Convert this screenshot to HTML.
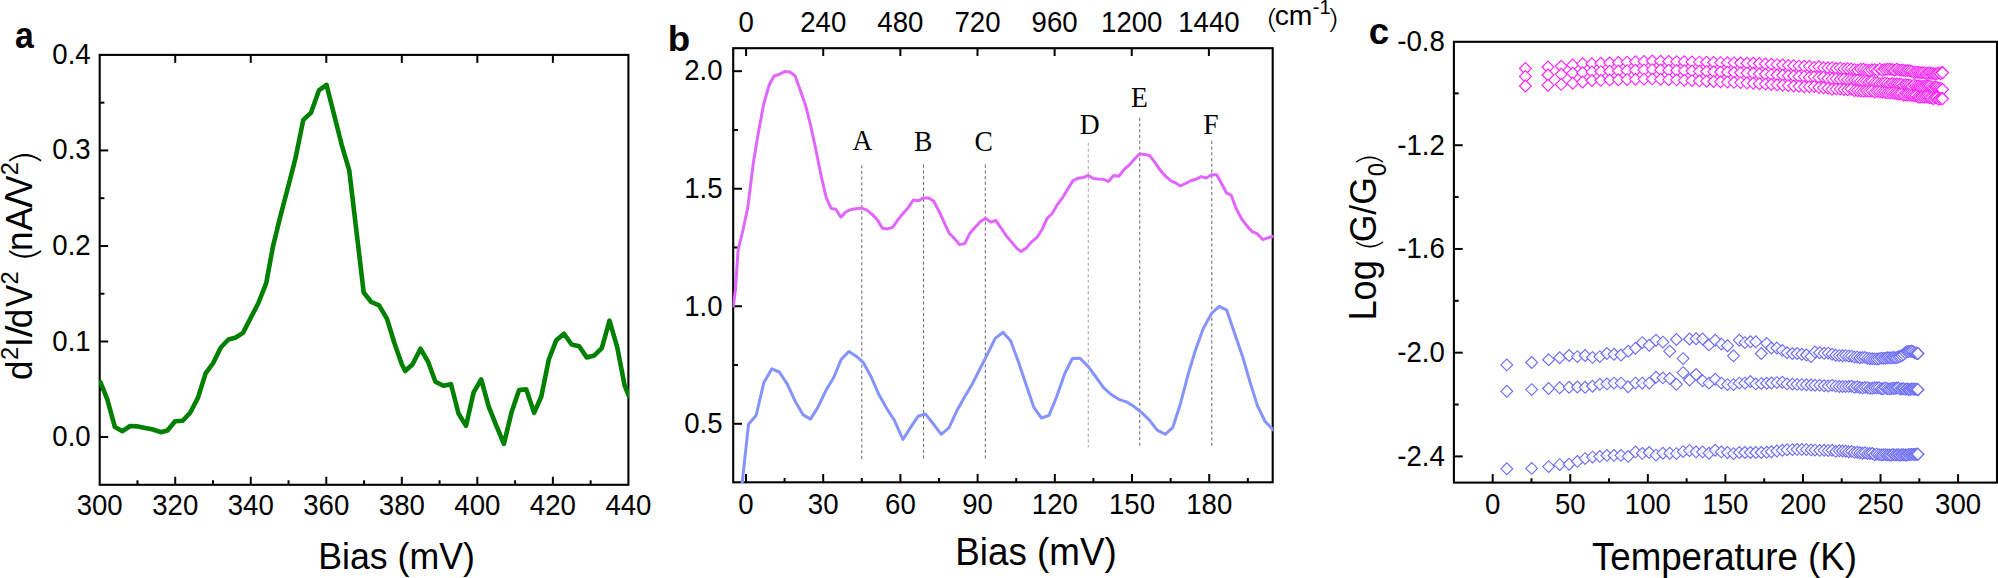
<!DOCTYPE html>
<html lang="en">
<head>
<meta charset="utf-8">
<title>Figure</title>
<style>
html,body{margin:0;padding:0;background:#fff;}
body{width:1998px;height:578px;overflow:hidden;}
svg{display:block;}
text{fill:#000;}
</style>
</head>
<body>
<svg width="1998" height="578" viewBox="0 0 1998 578">
<rect width="1998" height="578" fill="#fff"/>
<clipPath id="ca"><rect x="99.10000000000001" y="54.9" width="529.9" height="429.90000000000003"/></clipPath>
<rect x="99.7" y="54.9" width="528.6999999999999" height="429.90000000000003" fill="none" stroke="#000" stroke-width="2.1"/>
<text transform="translate(99.70,515.30) scale(1,1.05)" font-size="27.6" text-anchor="middle" font-family='"Liberation Sans", sans-serif' font-weight="normal" >300</text>
<line x1="137.46" y1="484.80" x2="137.46" y2="480.30" stroke="#000" stroke-width="2" />
<line x1="175.23" y1="484.80" x2="175.23" y2="476.80" stroke="#000" stroke-width="2" />
<line x1="175.23" y1="54.90" x2="175.23" y2="62.90" stroke="#000" stroke-width="2" />
<text transform="translate(175.23,515.30) scale(1,1.05)" font-size="27.6" text-anchor="middle" font-family='"Liberation Sans", sans-serif' font-weight="normal" >320</text>
<line x1="212.99" y1="484.80" x2="212.99" y2="480.30" stroke="#000" stroke-width="2" />
<line x1="250.76" y1="484.80" x2="250.76" y2="476.80" stroke="#000" stroke-width="2" />
<line x1="250.76" y1="54.90" x2="250.76" y2="62.90" stroke="#000" stroke-width="2" />
<text transform="translate(250.76,515.30) scale(1,1.05)" font-size="27.6" text-anchor="middle" font-family='"Liberation Sans", sans-serif' font-weight="normal" >340</text>
<line x1="288.52" y1="484.80" x2="288.52" y2="480.30" stroke="#000" stroke-width="2" />
<line x1="326.29" y1="484.80" x2="326.29" y2="476.80" stroke="#000" stroke-width="2" />
<line x1="326.29" y1="54.90" x2="326.29" y2="62.90" stroke="#000" stroke-width="2" />
<text transform="translate(326.29,515.30) scale(1,1.05)" font-size="27.6" text-anchor="middle" font-family='"Liberation Sans", sans-serif' font-weight="normal" >360</text>
<line x1="364.05" y1="484.80" x2="364.05" y2="480.30" stroke="#000" stroke-width="2" />
<line x1="401.81" y1="484.80" x2="401.81" y2="476.80" stroke="#000" stroke-width="2" />
<line x1="401.81" y1="54.90" x2="401.81" y2="62.90" stroke="#000" stroke-width="2" />
<text transform="translate(401.81,515.30) scale(1,1.05)" font-size="27.6" text-anchor="middle" font-family='"Liberation Sans", sans-serif' font-weight="normal" >380</text>
<line x1="439.58" y1="484.80" x2="439.58" y2="480.30" stroke="#000" stroke-width="2" />
<line x1="477.34" y1="484.80" x2="477.34" y2="476.80" stroke="#000" stroke-width="2" />
<line x1="477.34" y1="54.90" x2="477.34" y2="62.90" stroke="#000" stroke-width="2" />
<text transform="translate(477.34,515.30) scale(1,1.05)" font-size="27.6" text-anchor="middle" font-family='"Liberation Sans", sans-serif' font-weight="normal" >400</text>
<line x1="515.11" y1="484.80" x2="515.11" y2="480.30" stroke="#000" stroke-width="2" />
<line x1="552.87" y1="484.80" x2="552.87" y2="476.80" stroke="#000" stroke-width="2" />
<line x1="552.87" y1="54.90" x2="552.87" y2="62.90" stroke="#000" stroke-width="2" />
<text transform="translate(552.87,515.30) scale(1,1.05)" font-size="27.6" text-anchor="middle" font-family='"Liberation Sans", sans-serif' font-weight="normal" >420</text>
<line x1="590.64" y1="484.80" x2="590.64" y2="480.30" stroke="#000" stroke-width="2" />
<text transform="translate(628.40,515.30) scale(1,1.05)" font-size="27.6" text-anchor="middle" font-family='"Liberation Sans", sans-serif' font-weight="normal" >440</text>
<line x1="99.70" y1="437.03" x2="108.20" y2="437.03" stroke="#000" stroke-width="2" />
<text transform="translate(90.70,446.03) scale(1,1.05)" font-size="27.6" text-anchor="end" font-family='"Liberation Sans", sans-serif' font-weight="normal" >0.0</text>
<line x1="99.70" y1="389.27" x2="104.40" y2="389.27" stroke="#000" stroke-width="2" />
<line x1="99.70" y1="341.50" x2="108.20" y2="341.50" stroke="#000" stroke-width="2" />
<text transform="translate(90.70,350.50) scale(1,1.05)" font-size="27.6" text-anchor="end" font-family='"Liberation Sans", sans-serif' font-weight="normal" >0.1</text>
<line x1="99.70" y1="293.73" x2="104.40" y2="293.73" stroke="#000" stroke-width="2" />
<line x1="99.70" y1="245.97" x2="108.20" y2="245.97" stroke="#000" stroke-width="2" />
<text transform="translate(90.70,254.97) scale(1,1.05)" font-size="27.6" text-anchor="end" font-family='"Liberation Sans", sans-serif' font-weight="normal" >0.2</text>
<line x1="99.70" y1="198.20" x2="104.40" y2="198.20" stroke="#000" stroke-width="2" />
<line x1="99.70" y1="150.43" x2="108.20" y2="150.43" stroke="#000" stroke-width="2" />
<text transform="translate(90.70,159.43) scale(1,1.05)" font-size="27.6" text-anchor="end" font-family='"Liberation Sans", sans-serif' font-weight="normal" >0.3</text>
<line x1="99.70" y1="102.67" x2="104.40" y2="102.67" stroke="#000" stroke-width="2" />
<text transform="translate(90.70,63.90) scale(1,1.05)" font-size="27.6" text-anchor="end" font-family='"Liberation Sans", sans-serif' font-weight="normal" >0.4</text>
<polyline points="100.4,382.1 107.3,399.4 114.9,427.1 122.5,431.2 130.1,426.0 137.8,426.4 145.4,428.1 153.0,429.5 160.6,432.2 167.5,430.5 175.1,421.2 182.7,420.8 190.3,412.5 198.0,397.6 205.6,373.4 213.2,363.0 220.8,347.5 228.4,339.5 235.3,337.8 243.0,332.9 250.6,318.0 258.2,303.5 266.2,283.2 272.9,246.8 280.1,217.4 287.8,188.0 295.4,158.6 303.3,119.9 310.9,112.9 318.9,90.4 326.5,84.9 334.1,114.7 341.7,144.8 349.3,170.7 363.7,292.5 371.3,302.0 379.1,305.4 387.0,318.9 394.4,343.0 401.8,364.2 405.2,371.0 412.6,364.2 420.5,348.7 428.2,362.0 435.4,381.7 443.4,385.7 451.0,384.2 458.5,413.5 466.0,425.9 473.5,392.7 481.2,379.4 488.7,406.6 496.4,425.9 503.9,443.9 511.6,412.1 519.1,390.0 526.3,389.4 534.1,412.9 541.3,396.5 548.8,359.5 556.3,340.2 564.0,333.7 571.6,344.5 579.2,346.3 586.7,357.4 594.4,355.4 601.8,348.1 609.5,320.7 617.2,347.1 624.6,385.4 628.8,395.8" fill="none" stroke="#008000" stroke-width="4.6" stroke-linejoin="round" stroke-linecap="round" clip-path="url(#ca)"/>
<text transform="translate(24.30,48.10) scale(0.92,1.0)" font-size="36.7" text-anchor="middle" font-family='"Liberation Sans", sans-serif' font-weight="bold" >a</text>
<text transform="translate(396.60,568.70) scale(1,1.05)" font-size="35.7" text-anchor="middle" font-family='"Liberation Sans", sans-serif' font-weight="normal" >Bias (mV)</text>
<text transform="translate(32.1,380) rotate(-90) scale(1,1.035)" font-family='"Liberation Sans", sans-serif' text-anchor="start"><tspan x="0.13" y="0.00" font-size="35">d</tspan><tspan x="20.02" y="-13.43" font-size="23.5">2</tspan><tspan x="32.97" y="0.00" font-size="35">I</tspan><tspan x="42.80" y="0.00" font-size="35" textLength="11.67" lengthAdjust="spacingAndGlyphs">/</tspan><tspan x="51.83" y="0.00" font-size="35">d</tspan><tspan x="73.05" y="0.00" font-size="35" textLength="22.18" lengthAdjust="spacingAndGlyphs">V</tspan><tspan x="95.62" y="-13.43" font-size="23.5">2</tspan><tspan x="110.00" y="0" font-size="35"> </tspan><tspan x="117.64" y="3.48" font-size="33.5" font-family='"DejaVu Sans", sans-serif' font-weight="200" textLength="16.99" lengthAdjust="spacingAndGlyphs">(</tspan><tspan x="128.98" y="0.00" font-size="35">n</tspan><tspan x="149.33" y="0.00" font-size="35">A</tspan><tspan x="172.20" y="0.00" font-size="35" textLength="12.16" lengthAdjust="spacingAndGlyphs">/</tspan><tspan x="182.56" y="0.00" font-size="35" textLength="21.94" lengthAdjust="spacingAndGlyphs">V</tspan><tspan x="204.72" y="-13.43" font-size="23.5">2</tspan><tspan x="213.54" y="3.48" font-size="33.5" font-family='"DejaVu Sans", sans-serif' font-weight="200" textLength="16.99" lengthAdjust="spacingAndGlyphs">)</tspan></text>
<clipPath id="cb"><rect x="732.6" y="48.2" width="540.7" height="434.70000000000005"/></clipPath>
<line x1="861.81" y1="165.20" x2="861.81" y2="459.20" stroke="#555" stroke-width="0.9" stroke-dasharray="3.1 2.6"/>
<line x1="923.57" y1="164.70" x2="923.57" y2="459.20" stroke="#555" stroke-width="0.9" stroke-dasharray="3.1 2.6"/>
<line x1="985.34" y1="164.70" x2="985.34" y2="459.20" stroke="#555" stroke-width="0.9" stroke-dasharray="3.1 2.6"/>
<line x1="1088.28" y1="143.00" x2="1088.28" y2="447.40" stroke="#999" stroke-width="0.9" stroke-dasharray="3.1 2.6"/>
<line x1="1139.75" y1="117.80" x2="1139.75" y2="447.40" stroke="#555" stroke-width="0.9" stroke-dasharray="3.1 2.6"/>
<line x1="1211.80" y1="140.90" x2="1211.80" y2="445.90" stroke="#555" stroke-width="0.9" stroke-dasharray="3.1 2.6"/>
<rect x="733.2" y="48.2" width="539.5" height="434.1" fill="none" stroke="#000" stroke-width="2.1"/>
<line x1="746.00" y1="482.30" x2="746.00" y2="474.00" stroke="#000" stroke-width="2" />
<text transform="translate(746.00,514.40) scale(1,1.05)" font-size="27.6" text-anchor="middle" font-family='"Liberation Sans", sans-serif' font-weight="normal" >0</text>
<line x1="784.60" y1="482.30" x2="784.60" y2="478.00" stroke="#000" stroke-width="2" />
<line x1="823.21" y1="482.30" x2="823.21" y2="474.00" stroke="#000" stroke-width="2" />
<text transform="translate(823.21,514.40) scale(1,1.05)" font-size="27.6" text-anchor="middle" font-family='"Liberation Sans", sans-serif' font-weight="normal" >30</text>
<line x1="861.81" y1="482.30" x2="861.81" y2="478.00" stroke="#000" stroke-width="2" />
<line x1="900.41" y1="482.30" x2="900.41" y2="474.00" stroke="#000" stroke-width="2" />
<text transform="translate(900.41,514.40) scale(1,1.05)" font-size="27.6" text-anchor="middle" font-family='"Liberation Sans", sans-serif' font-weight="normal" >60</text>
<line x1="939.01" y1="482.30" x2="939.01" y2="478.00" stroke="#000" stroke-width="2" />
<line x1="977.62" y1="482.30" x2="977.62" y2="474.00" stroke="#000" stroke-width="2" />
<text transform="translate(977.62,514.40) scale(1,1.05)" font-size="27.6" text-anchor="middle" font-family='"Liberation Sans", sans-serif' font-weight="normal" >90</text>
<line x1="1016.22" y1="482.30" x2="1016.22" y2="478.00" stroke="#000" stroke-width="2" />
<line x1="1054.82" y1="482.30" x2="1054.82" y2="474.00" stroke="#000" stroke-width="2" />
<text transform="translate(1054.82,514.40) scale(1,1.05)" font-size="27.6" text-anchor="middle" font-family='"Liberation Sans", sans-serif' font-weight="normal" >120</text>
<line x1="1093.42" y1="482.30" x2="1093.42" y2="478.00" stroke="#000" stroke-width="2" />
<line x1="1132.03" y1="482.30" x2="1132.03" y2="474.00" stroke="#000" stroke-width="2" />
<text transform="translate(1132.03,514.40) scale(1,1.05)" font-size="27.6" text-anchor="middle" font-family='"Liberation Sans", sans-serif' font-weight="normal" >150</text>
<line x1="1170.63" y1="482.30" x2="1170.63" y2="478.00" stroke="#000" stroke-width="2" />
<line x1="1209.23" y1="482.30" x2="1209.23" y2="474.00" stroke="#000" stroke-width="2" />
<text transform="translate(1209.23,514.40) scale(1,1.05)" font-size="27.6" text-anchor="middle" font-family='"Liberation Sans", sans-serif' font-weight="normal" >180</text>
<line x1="1247.83" y1="482.30" x2="1247.83" y2="478.00" stroke="#000" stroke-width="2" />
<line x1="746.10" y1="48.20" x2="746.10" y2="56.00" stroke="#000" stroke-width="2" />
<text transform="translate(746.10,32.00) scale(1,1.05)" font-size="27.6" text-anchor="middle" font-family='"Liberation Sans", sans-serif' font-weight="normal" >0</text>
<line x1="823.23" y1="48.20" x2="823.23" y2="56.00" stroke="#000" stroke-width="2" />
<text transform="translate(823.23,32.00) scale(1,1.05)" font-size="27.6" text-anchor="middle" font-family='"Liberation Sans", sans-serif' font-weight="normal" >240</text>
<line x1="900.36" y1="48.20" x2="900.36" y2="56.00" stroke="#000" stroke-width="2" />
<text transform="translate(900.36,32.00) scale(1,1.05)" font-size="27.6" text-anchor="middle" font-family='"Liberation Sans", sans-serif' font-weight="normal" >480</text>
<line x1="977.49" y1="48.20" x2="977.49" y2="56.00" stroke="#000" stroke-width="2" />
<text transform="translate(977.49,32.00) scale(1,1.05)" font-size="27.6" text-anchor="middle" font-family='"Liberation Sans", sans-serif' font-weight="normal" >720</text>
<line x1="1054.62" y1="48.20" x2="1054.62" y2="56.00" stroke="#000" stroke-width="2" />
<text transform="translate(1054.62,32.00) scale(1,1.05)" font-size="27.6" text-anchor="middle" font-family='"Liberation Sans", sans-serif' font-weight="normal" >960</text>
<line x1="1131.75" y1="48.20" x2="1131.75" y2="56.00" stroke="#000" stroke-width="2" />
<text transform="translate(1131.75,32.00) scale(1,1.05)" font-size="27.6" text-anchor="middle" font-family='"Liberation Sans", sans-serif' font-weight="normal" >1200</text>
<line x1="1208.88" y1="48.20" x2="1208.88" y2="56.00" stroke="#000" stroke-width="2" />
<text transform="translate(1208.88,32.00) scale(1,1.05)" font-size="27.6" text-anchor="middle" font-family='"Liberation Sans", sans-serif' font-weight="normal" >1440</text>
<line x1="733.20" y1="423.80" x2="742.00" y2="423.80" stroke="#000" stroke-width="2" />
<text transform="translate(722.50,433.10) scale(1,1.05)" font-size="27.6" text-anchor="end" font-family='"Liberation Sans", sans-serif' font-weight="normal" >0.5</text>
<line x1="733.20" y1="365.03" x2="738.00" y2="365.03" stroke="#000" stroke-width="2" />
<line x1="733.20" y1="306.26" x2="742.00" y2="306.26" stroke="#000" stroke-width="2" />
<text transform="translate(722.50,315.56) scale(1,1.05)" font-size="27.6" text-anchor="end" font-family='"Liberation Sans", sans-serif' font-weight="normal" >1.0</text>
<line x1="733.20" y1="247.50" x2="738.00" y2="247.50" stroke="#000" stroke-width="2" />
<line x1="733.20" y1="188.73" x2="742.00" y2="188.73" stroke="#000" stroke-width="2" />
<text transform="translate(722.50,198.03) scale(1,1.05)" font-size="27.6" text-anchor="end" font-family='"Liberation Sans", sans-serif' font-weight="normal" >1.5</text>
<line x1="733.20" y1="129.96" x2="738.00" y2="129.96" stroke="#000" stroke-width="2" />
<line x1="733.20" y1="71.19" x2="742.00" y2="71.19" stroke="#000" stroke-width="2" />
<text transform="translate(722.50,80.49) scale(1,1.05)" font-size="27.6" text-anchor="end" font-family='"Liberation Sans", sans-serif' font-weight="normal" >2.0</text>
<polyline points="733.3,306.0 735.4,290.0 738.1,250.0 743.0,230.0 747.8,207.4 753.4,162.5 758.6,131.3 763.8,103.6 769.3,84.6 774.1,76.0 779.7,74.2 784.9,71.5 790.1,72.1 795.2,76.0 800.4,90.8 805.6,105.4 810.8,126.1 816.0,150.3 821.2,176.3 826.4,198.1 831.2,208.5 835.7,209.2 840.9,217.1 846.1,211.6 852.3,209.2 861.7,208.1 866.9,210.2 872.1,214.4 877.2,219.6 882.4,228.2 887.6,228.9 892.8,227.2 898.0,219.6 903.2,213.3 908.4,207.4 913.3,200.1 918.4,200.8 923.5,197.9 928.4,197.9 933.6,201.0 938.8,210.7 943.9,221.8 949.1,233.2 954.3,238.4 959.5,244.6 964.7,243.6 969.9,233.2 975.1,227.3 980.3,221.8 985.5,218.3 990.7,222.1 995.8,220.4 1001.0,228.0 1006.2,235.6 1011.4,241.9 1016.6,248.1 1021.1,251.6 1026.3,248.1 1031.5,241.9 1036.7,237.7 1041.9,229.8 1047.1,218.3 1052.2,213.5 1057.4,204.5 1062.6,197.6 1067.8,188.9 1073.0,180.6 1078.2,178.2 1083.4,177.5 1088.3,175.4 1093.4,178.6 1098.3,179.0 1103.5,179.3 1108.4,181.4 1113.6,175.5 1118.8,176.2 1123.9,169.7 1129.1,165.2 1134.3,159.3 1139.5,154.1 1144.7,154.4 1149.9,155.8 1155.1,162.7 1160.3,170.3 1165.5,176.2 1170.7,180.7 1175.8,183.1 1180.3,185.9 1185.5,183.5 1190.7,180.7 1195.9,179.3 1201.1,176.6 1206.3,178.0 1211.5,174.8 1216.7,174.8 1221.9,184.2 1226.4,192.8 1231.2,195.3 1236.4,209.1 1241.6,218.8 1246.8,225.7 1252.0,231.6 1257.2,233.7 1262.7,239.6 1267.9,237.8 1273.6,236.2" fill="none" stroke="#e066ff" stroke-width="3.0" stroke-linejoin="round" stroke-linecap="round" clip-path="url(#cb)"/>
<polyline points="741.3,495.0 742.3,482.0 748.5,424.3 756.1,415.6 763.8,382.7 771.7,368.9 779.3,372.0 787.3,384.1 794.9,400.7 802.9,414.6 810.5,419.1 817.7,407.6 826.0,390.3 833.7,377.5 841.3,359.2 848.9,351.6 856.5,356.4 863.4,362.7 871.0,376.5 879.0,394.8 886.6,408.3 894.6,420.8 902.9,439.5 910.6,427.4 918.0,416.3 925.4,413.9 933.6,424.3 941.2,434.3 949.1,427.7 956.7,411.1 964.4,397.3 972.0,384.5 979.6,369.6 987.5,354.0 995.2,338.4 1003.1,332.2 1010.7,340.9 1018.3,361.6 1026.3,385.2 1033.9,407.6 1041.5,418.0 1049.1,415.3 1056.7,396.6 1064.7,373.7 1072.3,358.5 1079.9,358.2 1087.9,366.1 1095.6,376.5 1103.5,387.6 1111.1,394.5 1118.8,399.3 1126.4,401.8 1134.0,406.6 1141.9,412.8 1149.6,420.4 1157.2,430.1 1165.1,434.3 1172.7,427.7 1180.3,404.2 1188.0,374.8 1195.9,348.8 1203.5,328.1 1211.5,313.5 1219.1,306.3 1226.7,310.1 1234.3,332.6 1242.3,355.7 1249.9,381.7 1257.5,405.9 1265.1,421.5 1273.6,430.2" fill="none" stroke="#8593fc" stroke-width="3.0" stroke-linejoin="round" stroke-linecap="round" clip-path="url(#cb)"/>
<text transform="translate(678.90,51.00) scale(1,0.96)" font-size="36.7" text-anchor="middle" font-family='"Liberation Sans", sans-serif' font-weight="bold" >b</text>
<text transform="translate(1036.00,565.20) scale(1,1.05)" font-size="36.8" text-anchor="middle" font-family='"Liberation Sans", sans-serif' font-weight="normal" >Bias (mV)</text>
<text transform="translate(0,25.3) scale(1,1.0)" font-family='"Liberation Sans", sans-serif' text-anchor="start"><tspan x="1264.97" y="3.00" font-size="26.3" font-family='"DejaVu Sans", sans-serif' font-weight="200" textLength="14.36" lengthAdjust="spacingAndGlyphs">(</tspan><tspan x="1274.70" y="0.00" font-size="28.3">cm</tspan><tspan x="1312.70" y="-11.80" font-size="20.2">-1</tspan><tspan x="1325.87" y="3.00" font-size="26.3" font-family='"DejaVu Sans", sans-serif' font-weight="200" textLength="14.36" lengthAdjust="spacingAndGlyphs">)</tspan></text>
<text transform="translate(862.40,150.30) scale(1,1.05)" font-size="27.5" text-anchor="middle" font-family='"Liberation Serif", serif' font-weight="normal" >A</text>
<text transform="translate(923.20,151.00) scale(1,1.05)" font-size="27.5" text-anchor="middle" font-family='"Liberation Serif", serif' font-weight="normal" >B</text>
<text transform="translate(983.70,151.00) scale(1,1.05)" font-size="27.5" text-anchor="middle" font-family='"Liberation Serif", serif' font-weight="normal" >C</text>
<text transform="translate(1089.60,134.00) scale(1,1.05)" font-size="27.5" text-anchor="middle" font-family='"Liberation Serif", serif' font-weight="normal" >D</text>
<text transform="translate(1139.50,107.40) scale(1,1.05)" font-size="27.5" text-anchor="middle" font-family='"Liberation Serif", serif' font-weight="normal" >E</text>
<text transform="translate(1210.80,134.00) scale(1,1.05)" font-size="27.5" text-anchor="middle" font-family='"Liberation Serif", serif' font-weight="normal" >F</text>
<g fill="#fff" fill-opacity="0.75" stroke="#6c6cf8" stroke-width="1.12">
<path d="M1500.9,364.9L1506.8,359.0L1512.7,364.9L1506.8,370.8Z"/>
<path d="M1525.8,362.5L1531.7,356.6L1537.6,362.5L1531.7,368.4Z"/>
<path d="M1542.7,359.7L1548.6,353.8L1554.5,359.7L1548.6,365.6Z"/>
<path d="M1553.8,357.7L1559.7,351.8L1565.6,357.7L1559.7,363.6Z"/>
<path d="M1563.2,355.5L1569.1,349.6L1575.0,355.5L1569.1,361.4Z"/>
<path d="M1571.5,356.6L1577.4,350.7L1583.3,356.6L1577.4,362.5Z"/>
<path d="M1579.2,355.5L1585.1,349.6L1591.0,355.5L1585.1,361.4Z"/>
<path d="M1586.6,357.4L1592.5,351.5L1598.4,357.4L1592.5,363.3Z"/>
<path d="M1593.9,356.6L1599.8,350.7L1605.7,356.6L1599.8,362.5Z"/>
<path d="M1601.0,353.5L1606.9,347.6L1612.8,353.5L1606.9,359.4Z"/>
<path d="M1608.1,354.3L1614.0,348.4L1619.9,354.3L1614.0,360.2Z"/>
<path d="M1615.1,355.0L1621.0,349.1L1626.9,355.0L1621.0,360.9Z"/>
<path d="M1622.3,351.2L1628.2,345.3L1634.1,351.2L1628.2,357.1Z"/>
<path d="M1629.6,348.3L1635.5,342.4L1641.4,348.3L1635.5,354.2Z"/>
<path d="M1636.4,342.6L1642.3,336.7L1648.2,342.6L1642.3,348.5Z"/>
<path d="M1643.3,345.2L1649.2,339.3L1655.1,345.2L1649.2,351.1Z"/>
<path d="M1650.1,340.2L1656.0,334.3L1661.9,340.2L1656.0,346.1Z"/>
<path d="M1657.0,342.1L1662.9,336.2L1668.8,342.1L1662.9,348.0Z"/>
<path d="M1663.8,351.2L1669.7,345.3L1675.6,351.2L1669.7,357.1Z"/>
<path d="M1670.5,339.5L1676.4,333.6L1682.3,339.5L1676.4,345.4Z"/>
<path d="M1677.2,358.6L1683.1,352.7L1689.0,358.6L1683.1,364.5Z"/>
<path d="M1683.6,339.0L1689.5,333.1L1695.4,339.0L1689.5,344.9Z"/>
<path d="M1690.2,338.7L1696.1,332.8L1702.0,338.7L1696.1,344.6Z"/>
<path d="M1696.7,339.0L1702.6,333.1L1708.5,339.0L1702.6,344.9Z"/>
<path d="M1703.1,344.9L1709.0,339.0L1714.9,344.9L1709.0,350.8Z"/>
<path d="M1709.3,340.2L1715.2,334.3L1721.1,340.2L1715.2,346.1Z"/>
<path d="M1715.5,344.1L1721.4,338.2L1727.3,344.1L1721.4,350.0Z"/>
<path d="M1721.6,345.7L1727.5,339.8L1733.4,345.7L1727.5,351.6Z"/>
<path d="M1727.6,355.8L1733.5,349.9L1739.4,355.8L1733.5,361.7Z"/>
<path d="M1733.4,340.2L1739.3,334.3L1745.2,340.2L1739.3,346.1Z"/>
<path d="M1739.0,342.6L1744.9,336.7L1750.8,342.6L1744.9,348.5Z"/>
<path d="M1744.5,341.8L1750.4,335.9L1756.3,341.8L1750.4,347.7Z"/>
<path d="M1749.9,341.8L1755.8,335.9L1761.7,341.8L1755.8,347.7Z"/>
<path d="M1755.4,353.5L1761.3,347.6L1767.2,353.5L1761.3,359.4Z"/>
<path d="M1760.8,343.4L1766.7,337.5L1772.6,343.4L1766.7,349.3Z"/>
<path d="M1765.5,348.0L1771.4,342.1L1777.3,348.0L1771.4,353.9Z"/>
<path d="M1771.0,348.0L1776.9,342.1L1782.8,348.0L1776.9,353.9Z"/>
<path d="M1776.4,350.4L1782.3,344.5L1788.2,350.4L1782.3,356.3Z"/>
<path d="M1781.1,352.7L1787.0,346.8L1792.9,352.7L1787.0,358.6Z"/>
<path d="M1786.5,353.5L1792.4,347.6L1798.3,353.5L1792.4,359.4Z"/>
<path d="M1791.2,353.5L1797.1,347.6L1803.0,353.5L1797.1,359.4Z"/>
<path d="M1795.9,354.3L1801.8,348.4L1807.7,354.3L1801.8,360.2Z"/>
<path d="M1800.5,355.0L1806.4,349.1L1812.3,355.0L1806.4,360.9Z"/>
<path d="M1805.2,356.6L1811.1,350.7L1817.0,356.6L1811.1,362.5Z"/>
<path d="M1809.1,351.9L1815.0,346.0L1820.9,351.9L1815.0,357.8Z"/>
<path d="M1813.8,352.7L1819.7,346.8L1825.6,352.7L1819.7,358.6Z"/>
<path d="M1818.2,353.3L1824.1,347.4L1830.0,353.3L1824.1,359.2Z"/>
<path d="M1822.3,353.1L1828.2,347.2L1834.1,353.1L1828.2,359.0Z"/>
<path d="M1826.2,354.2L1832.1,348.3L1838.0,354.2L1832.1,360.1Z"/>
<path d="M1829.9,355.2L1835.8,349.3L1841.7,355.2L1835.8,361.1Z"/>
<path d="M1833.4,355.6L1839.3,349.7L1845.2,355.6L1839.3,361.5Z"/>
<path d="M1836.7,355.8L1842.6,349.9L1848.5,355.8L1842.6,361.7Z"/>
<path d="M1839.8,355.6L1845.7,349.7L1851.6,355.6L1845.7,361.5Z"/>
<path d="M1842.8,356.1L1848.7,350.2L1854.6,356.1L1848.7,362.0Z"/>
<path d="M1845.7,356.1L1851.6,350.2L1857.5,356.1L1851.6,362.0Z"/>
<path d="M1848.5,357.1L1854.4,351.2L1860.3,357.1L1854.4,363.0Z"/>
<path d="M1851.3,357.1L1857.2,351.2L1863.1,357.1L1857.2,363.0Z"/>
<path d="M1854.0,357.7L1859.9,351.8L1865.8,357.7L1859.9,363.6Z"/>
<path d="M1856.6,357.4L1862.5,351.5L1868.4,357.4L1862.5,363.3Z"/>
<path d="M1859.1,357.4L1865.0,351.5L1870.9,357.4L1865.0,363.3Z"/>
<path d="M1861.6,358.3L1867.5,352.4L1873.4,358.3L1867.5,364.2Z"/>
<path d="M1864.0,358.7L1869.9,352.8L1875.8,358.7L1869.9,364.6Z"/>
<path d="M1866.4,358.8L1872.3,352.9L1878.2,358.8L1872.3,364.7Z"/>
<path d="M1868.7,358.9L1874.6,353.0L1880.5,358.9L1874.6,364.8Z"/>
<path d="M1870.9,359.0L1876.8,353.1L1882.7,359.0L1876.8,364.9Z"/>
<path d="M1873.1,358.8L1879.0,352.9L1884.9,358.8L1879.0,364.7Z"/>
<path d="M1875.3,358.1L1881.2,352.2L1887.1,358.1L1881.2,364.0Z"/>
<path d="M1877.3,358.4L1883.2,352.5L1889.1,358.4L1883.2,364.3Z"/>
<path d="M1879.4,358.2L1885.3,352.3L1891.2,358.2L1885.3,364.1Z"/>
<path d="M1881.4,357.7L1887.3,351.8L1893.2,357.7L1887.3,363.6Z"/>
<path d="M1883.4,357.7L1889.3,351.8L1895.2,357.7L1889.3,363.6Z"/>
<path d="M1885.3,357.9L1891.2,352.0L1897.1,357.9L1891.2,363.8Z"/>
<path d="M1887.2,357.5L1893.1,351.6L1899.0,357.5L1893.1,363.4Z"/>
<path d="M1889.0,357.7L1894.9,351.8L1900.8,357.7L1894.9,363.6Z"/>
<path d="M1890.8,357.6L1896.7,351.7L1902.6,357.6L1896.7,363.5Z"/>
<path d="M1892.6,356.7L1898.5,350.8L1904.4,356.7L1898.5,362.6Z"/>
<path d="M1894.3,356.4L1900.2,350.5L1906.1,356.4L1900.2,362.3Z"/>
<path d="M1896.0,355.5L1901.9,349.6L1907.8,355.5L1901.9,361.4Z"/>
<path d="M1897.7,354.4L1903.6,348.5L1909.5,354.4L1903.6,360.3Z"/>
<path d="M1899.4,352.7L1905.3,346.8L1911.2,352.7L1905.3,358.6Z"/>
<path d="M1901.0,351.6L1906.9,345.7L1912.8,351.6L1906.9,357.5Z"/>
<path d="M1902.6,351.5L1908.5,345.6L1914.4,351.5L1908.5,357.4Z"/>
<path d="M1904.2,351.4L1910.1,345.5L1916.0,351.4L1910.1,357.3Z"/>
<path d="M1905.8,351.3L1911.7,345.4L1917.6,351.3L1911.7,357.2Z"/>
<path d="M1907.4,351.8L1913.3,345.9L1919.2,351.8L1913.3,357.7Z"/>
<path d="M1908.9,352.8L1914.8,346.9L1920.7,352.8L1914.8,358.7Z"/>
<path d="M1910.5,353.3L1916.4,347.4L1922.3,353.3L1916.4,359.2Z"/>
<path d="M1912.0,353.5L1917.9,347.6L1923.8,353.5L1917.9,359.4Z"/>
<path d="M1911.9,353.5L1917.8,347.6L1923.7,353.5L1917.8,359.4Z"/>
</g>
<g fill="#fff" fill-opacity="0.75" stroke="#6c6cf8" stroke-width="1.12">
<path d="M1500.9,391.3L1506.8,385.4L1512.7,391.3L1506.8,397.2Z"/>
<path d="M1525.8,389.6L1531.7,383.7L1537.6,389.6L1531.7,395.5Z"/>
<path d="M1542.7,388.5L1548.6,382.6L1554.5,388.5L1548.6,394.4Z"/>
<path d="M1553.8,387.8L1559.7,381.9L1565.6,387.8L1559.7,393.7Z"/>
<path d="M1563.2,387.3L1569.1,381.4L1575.0,387.3L1569.1,393.2Z"/>
<path d="M1571.5,387.0L1577.4,381.1L1583.3,387.0L1577.4,392.9Z"/>
<path d="M1579.2,387.3L1585.1,381.4L1591.0,387.3L1585.1,393.2Z"/>
<path d="M1586.6,386.2L1592.5,380.3L1598.4,386.2L1592.5,392.1Z"/>
<path d="M1593.9,384.3L1599.8,378.4L1605.7,384.3L1599.8,390.2Z"/>
<path d="M1601.0,383.9L1606.9,378.0L1612.8,383.9L1606.9,389.8Z"/>
<path d="M1608.1,383.1L1614.0,377.2L1619.9,383.1L1614.0,389.0Z"/>
<path d="M1615.1,383.1L1621.0,377.2L1626.9,383.1L1621.0,389.0Z"/>
<path d="M1622.3,386.7L1628.2,380.8L1634.1,386.7L1628.2,392.6Z"/>
<path d="M1629.6,383.1L1635.5,377.2L1641.4,383.1L1635.5,389.0Z"/>
<path d="M1636.4,383.1L1642.3,377.2L1648.2,383.1L1642.3,389.0Z"/>
<path d="M1643.3,383.1L1649.2,377.2L1655.1,383.1L1649.2,389.0Z"/>
<path d="M1650.1,377.2L1656.0,371.3L1661.9,377.2L1656.0,383.1Z"/>
<path d="M1657.0,377.9L1662.9,372.0L1668.8,377.9L1662.9,383.8Z"/>
<path d="M1663.8,378.4L1669.7,372.5L1675.6,378.4L1669.7,384.3Z"/>
<path d="M1670.5,384.3L1676.4,378.4L1682.3,384.3L1676.4,390.2Z"/>
<path d="M1677.2,372.6L1683.1,366.7L1689.0,372.6L1683.1,378.5Z"/>
<path d="M1683.6,380.0L1689.5,374.1L1695.4,380.0L1689.5,385.9Z"/>
<path d="M1690.2,374.5L1696.1,368.6L1702.0,374.5L1696.1,380.4Z"/>
<path d="M1696.7,380.7L1702.6,374.8L1708.5,380.7L1702.6,386.6Z"/>
<path d="M1703.1,383.1L1709.0,377.2L1714.9,383.1L1709.0,389.0Z"/>
<path d="M1709.3,379.2L1715.2,373.3L1721.1,379.2L1715.2,385.1Z"/>
<path d="M1715.5,383.1L1721.4,377.2L1727.3,383.1L1721.4,389.0Z"/>
<path d="M1721.6,384.6L1727.5,378.7L1733.4,384.6L1727.5,390.5Z"/>
<path d="M1727.6,384.6L1733.5,378.7L1739.4,384.6L1733.5,390.5Z"/>
<path d="M1733.4,383.1L1739.3,377.2L1745.2,383.1L1739.3,389.0Z"/>
<path d="M1739.0,383.1L1744.9,377.2L1750.8,383.1L1744.9,389.0Z"/>
<path d="M1744.5,381.5L1750.4,375.6L1756.3,381.5L1750.4,387.4Z"/>
<path d="M1749.9,383.9L1755.8,378.0L1761.7,383.9L1755.8,389.8Z"/>
<path d="M1755.4,383.6L1761.3,377.7L1767.2,383.6L1761.3,389.5Z"/>
<path d="M1760.8,383.2L1766.7,377.3L1772.6,383.2L1766.7,389.1Z"/>
<path d="M1765.5,383.0L1771.4,377.1L1777.3,383.0L1771.4,388.9Z"/>
<path d="M1771.0,382.6L1776.9,376.7L1782.8,382.6L1776.9,388.5Z"/>
<path d="M1776.4,382.3L1782.3,376.4L1788.2,382.3L1782.3,388.2Z"/>
<path d="M1781.1,383.9L1787.0,378.0L1792.9,383.9L1787.0,389.8Z"/>
<path d="M1786.5,384.1L1792.4,378.2L1798.3,384.1L1792.4,390.0Z"/>
<path d="M1791.2,384.4L1797.1,378.5L1803.0,384.4L1797.1,390.3Z"/>
<path d="M1795.9,384.6L1801.8,378.7L1807.7,384.6L1801.8,390.5Z"/>
<path d="M1800.5,384.8L1806.4,378.9L1812.3,384.8L1806.4,390.7Z"/>
<path d="M1805.2,385.0L1811.1,379.1L1817.0,385.0L1811.1,390.9Z"/>
<path d="M1809.1,385.2L1815.0,379.3L1820.9,385.2L1815.0,391.1Z"/>
<path d="M1813.8,385.3L1819.7,379.4L1825.6,385.3L1819.7,391.2Z"/>
<path d="M1818.2,385.7L1824.1,379.8L1830.0,385.7L1824.1,391.6Z"/>
<path d="M1822.3,386.0L1828.2,380.1L1834.1,386.0L1828.2,391.9Z"/>
<path d="M1826.2,385.3L1832.1,379.4L1838.0,385.3L1832.1,391.2Z"/>
<path d="M1829.9,386.1L1835.8,380.2L1841.7,386.1L1835.8,392.0Z"/>
<path d="M1833.4,386.5L1839.3,380.6L1845.2,386.5L1839.3,392.4Z"/>
<path d="M1836.7,386.5L1842.6,380.6L1848.5,386.5L1842.6,392.4Z"/>
<path d="M1839.8,386.6L1845.7,380.7L1851.6,386.6L1845.7,392.5Z"/>
<path d="M1842.8,386.4L1848.7,380.5L1854.6,386.4L1848.7,392.3Z"/>
<path d="M1845.7,386.3L1851.6,380.4L1857.5,386.3L1851.6,392.2Z"/>
<path d="M1848.5,387.2L1854.4,381.3L1860.3,387.2L1854.4,393.1Z"/>
<path d="M1851.3,386.8L1857.2,380.9L1863.1,386.8L1857.2,392.7Z"/>
<path d="M1854.0,387.5L1859.9,381.6L1865.8,387.5L1859.9,393.4Z"/>
<path d="M1856.6,387.9L1862.5,382.0L1868.4,387.9L1862.5,393.8Z"/>
<path d="M1859.1,387.4L1865.0,381.5L1870.9,387.4L1865.0,393.3Z"/>
<path d="M1861.6,387.6L1867.5,381.7L1873.4,387.6L1867.5,393.5Z"/>
<path d="M1864.0,388.4L1869.9,382.5L1875.8,388.4L1869.9,394.3Z"/>
<path d="M1866.4,388.2L1872.3,382.3L1878.2,388.2L1872.3,394.1Z"/>
<path d="M1868.7,387.7L1874.6,381.8L1880.5,387.7L1874.6,393.6Z"/>
<path d="M1870.9,387.8L1876.8,381.9L1882.7,387.8L1876.8,393.7Z"/>
<path d="M1873.1,387.8L1879.0,381.9L1884.9,387.8L1879.0,393.7Z"/>
<path d="M1875.3,388.8L1881.2,382.9L1887.1,388.8L1881.2,394.7Z"/>
<path d="M1877.3,388.7L1883.2,382.8L1889.1,388.7L1883.2,394.6Z"/>
<path d="M1879.4,387.9L1885.3,382.0L1891.2,387.9L1885.3,393.8Z"/>
<path d="M1881.4,388.7L1887.3,382.8L1893.2,388.7L1887.3,394.6Z"/>
<path d="M1883.4,388.9L1889.3,383.0L1895.2,388.9L1889.3,394.8Z"/>
<path d="M1885.3,388.6L1891.2,382.7L1897.1,388.6L1891.2,394.5Z"/>
<path d="M1887.2,388.2L1893.1,382.3L1899.0,388.2L1893.1,394.1Z"/>
<path d="M1889.0,388.5L1894.9,382.6L1900.8,388.5L1894.9,394.4Z"/>
<path d="M1890.8,388.0L1896.7,382.1L1902.6,388.0L1896.7,393.9Z"/>
<path d="M1892.6,387.9L1898.5,382.0L1904.4,387.9L1898.5,393.8Z"/>
<path d="M1894.3,389.1L1900.2,383.2L1906.1,389.1L1900.2,395.0Z"/>
<path d="M1896.0,388.8L1901.9,382.9L1907.8,388.8L1901.9,394.7Z"/>
<path d="M1897.7,388.8L1903.6,382.9L1909.5,388.8L1903.6,394.7Z"/>
<path d="M1899.4,389.4L1905.3,383.5L1911.2,389.4L1905.3,395.3Z"/>
<path d="M1901.0,388.9L1906.9,383.0L1912.8,388.9L1906.9,394.8Z"/>
<path d="M1902.6,389.5L1908.5,383.6L1914.4,389.5L1908.5,395.4Z"/>
<path d="M1904.2,389.5L1910.1,383.6L1916.0,389.5L1910.1,395.4Z"/>
<path d="M1905.8,388.9L1911.7,383.0L1917.6,388.9L1911.7,394.8Z"/>
<path d="M1907.4,389.0L1913.3,383.1L1919.2,389.0L1913.3,394.9Z"/>
<path d="M1908.9,389.2L1914.8,383.3L1920.7,389.2L1914.8,395.1Z"/>
<path d="M1910.5,389.2L1916.4,383.3L1922.3,389.2L1916.4,395.1Z"/>
<path d="M1912.0,389.7L1917.9,383.8L1923.8,389.7L1917.9,395.6Z"/>
<path d="M1911.9,389.6L1917.8,383.7L1923.7,389.6L1917.8,395.5Z"/>
</g>
<g fill="#fff" fill-opacity="0.75" stroke="#6c6cf8" stroke-width="1.12">
<path d="M1500.9,468.8L1506.8,462.9L1512.7,468.8L1506.8,474.7Z"/>
<path d="M1525.8,468.4L1531.7,462.5L1537.6,468.4L1531.7,474.3Z"/>
<path d="M1542.7,466.6L1548.6,460.7L1554.5,466.6L1548.6,472.5Z"/>
<path d="M1553.8,464.6L1559.7,458.7L1565.6,464.6L1559.7,470.5Z"/>
<path d="M1563.2,464.2L1569.1,458.3L1575.0,464.2L1569.1,470.1Z"/>
<path d="M1571.5,461.4L1577.4,455.5L1583.3,461.4L1577.4,467.3Z"/>
<path d="M1579.2,458.6L1585.1,452.7L1591.0,458.6L1585.1,464.5Z"/>
<path d="M1586.6,457.1L1592.5,451.2L1598.4,457.1L1592.5,463.0Z"/>
<path d="M1593.9,456.4L1599.8,450.5L1605.7,456.4L1599.8,462.3Z"/>
<path d="M1601.0,455.4L1606.9,449.5L1612.8,455.4L1606.9,461.3Z"/>
<path d="M1608.1,455.4L1614.0,449.5L1619.9,455.4L1614.0,461.3Z"/>
<path d="M1615.1,455.4L1621.0,449.5L1626.9,455.4L1621.0,461.3Z"/>
<path d="M1622.3,456.4L1628.2,450.5L1634.1,456.4L1628.2,462.3Z"/>
<path d="M1629.6,451.9L1635.5,446.0L1641.4,451.9L1635.5,457.8Z"/>
<path d="M1636.4,453.4L1642.3,447.5L1648.2,453.4L1642.3,459.3Z"/>
<path d="M1643.3,452.5L1649.2,446.6L1655.1,452.5L1649.2,458.4Z"/>
<path d="M1650.1,455.1L1656.0,449.2L1661.9,455.1L1656.0,461.0Z"/>
<path d="M1657.0,453.2L1662.9,447.3L1668.8,453.2L1662.9,459.1Z"/>
<path d="M1663.8,453.2L1669.7,447.3L1675.6,453.2L1669.7,459.1Z"/>
<path d="M1670.5,453.6L1676.4,447.7L1682.3,453.6L1676.4,459.5Z"/>
<path d="M1677.2,451.6L1683.1,445.7L1689.0,451.6L1683.1,457.5Z"/>
<path d="M1683.6,450.6L1689.5,444.7L1695.4,450.6L1689.5,456.5Z"/>
<path d="M1690.2,451.9L1696.1,446.0L1702.0,451.9L1696.1,457.8Z"/>
<path d="M1696.7,451.9L1702.6,446.0L1708.5,451.9L1702.6,457.8Z"/>
<path d="M1703.1,453.2L1709.0,447.3L1714.9,453.2L1709.0,459.1Z"/>
<path d="M1709.3,450.2L1715.2,444.3L1721.1,450.2L1715.2,456.1Z"/>
<path d="M1715.5,451.9L1721.4,446.0L1727.3,451.9L1721.4,457.8Z"/>
<path d="M1721.6,452.5L1727.5,446.6L1733.4,452.5L1727.5,458.4Z"/>
<path d="M1727.6,453.6L1733.5,447.7L1739.4,453.6L1733.5,459.5Z"/>
<path d="M1733.4,452.5L1739.3,446.6L1745.2,452.5L1739.3,458.4Z"/>
<path d="M1739.0,452.5L1744.9,446.6L1750.8,452.5L1744.9,458.4Z"/>
<path d="M1744.5,452.5L1750.4,446.6L1756.3,452.5L1750.4,458.4Z"/>
<path d="M1749.9,452.5L1755.8,446.6L1761.7,452.5L1755.8,458.4Z"/>
<path d="M1755.4,452.5L1761.3,446.6L1767.2,452.5L1761.3,458.4Z"/>
<path d="M1760.8,452.3L1766.7,446.4L1772.6,452.3L1766.7,458.2Z"/>
<path d="M1765.5,451.7L1771.4,445.8L1777.3,451.7L1771.4,457.6Z"/>
<path d="M1771.0,451.0L1776.9,445.1L1782.8,451.0L1776.9,456.9Z"/>
<path d="M1776.4,450.3L1782.3,444.4L1788.2,450.3L1782.3,456.2Z"/>
<path d="M1781.1,449.8L1787.0,443.9L1792.9,449.8L1787.0,455.7Z"/>
<path d="M1786.5,449.6L1792.4,443.7L1798.3,449.6L1792.4,455.5Z"/>
<path d="M1791.2,449.4L1797.1,443.5L1803.0,449.4L1797.1,455.3Z"/>
<path d="M1795.9,449.4L1801.8,443.5L1807.7,449.4L1801.8,455.3Z"/>
<path d="M1800.5,449.6L1806.4,443.7L1812.3,449.6L1806.4,455.5Z"/>
<path d="M1805.2,449.9L1811.1,444.0L1817.0,449.9L1811.1,455.8Z"/>
<path d="M1809.1,450.1L1815.0,444.2L1820.9,450.1L1815.0,456.0Z"/>
<path d="M1813.8,450.4L1819.7,444.5L1825.6,450.4L1819.7,456.3Z"/>
<path d="M1818.2,450.3L1824.1,444.4L1830.0,450.3L1824.1,456.2Z"/>
<path d="M1822.3,450.6L1828.2,444.7L1834.1,450.6L1828.2,456.5Z"/>
<path d="M1826.2,450.3L1832.1,444.4L1838.0,450.3L1832.1,456.2Z"/>
<path d="M1829.9,451.4L1835.8,445.5L1841.7,451.4L1835.8,457.3Z"/>
<path d="M1833.4,450.8L1839.3,444.9L1845.2,450.8L1839.3,456.7Z"/>
<path d="M1836.7,451.0L1842.6,445.1L1848.5,451.0L1842.6,456.9Z"/>
<path d="M1839.8,451.2L1845.7,445.3L1851.6,451.2L1845.7,457.1Z"/>
<path d="M1842.8,451.7L1848.7,445.8L1854.6,451.7L1848.7,457.6Z"/>
<path d="M1845.7,451.4L1851.6,445.5L1857.5,451.4L1851.6,457.3Z"/>
<path d="M1848.5,452.4L1854.4,446.5L1860.3,452.4L1854.4,458.3Z"/>
<path d="M1851.3,452.3L1857.2,446.4L1863.1,452.3L1857.2,458.2Z"/>
<path d="M1854.0,452.8L1859.9,446.9L1865.8,452.8L1859.9,458.7Z"/>
<path d="M1856.6,453.2L1862.5,447.3L1868.4,453.2L1862.5,459.1Z"/>
<path d="M1859.1,452.8L1865.0,446.9L1870.9,452.8L1865.0,458.7Z"/>
<path d="M1861.6,453.6L1867.5,447.7L1873.4,453.6L1867.5,459.5Z"/>
<path d="M1864.0,453.5L1869.9,447.6L1875.8,453.5L1869.9,459.4Z"/>
<path d="M1866.4,453.5L1872.3,447.6L1878.2,453.5L1872.3,459.4Z"/>
<path d="M1868.7,454.7L1874.6,448.8L1880.5,454.7L1874.6,460.6Z"/>
<path d="M1870.9,454.1L1876.8,448.2L1882.7,454.1L1876.8,460.0Z"/>
<path d="M1873.1,454.6L1879.0,448.7L1884.9,454.6L1879.0,460.5Z"/>
<path d="M1875.3,454.9L1881.2,449.0L1887.1,454.9L1881.2,460.8Z"/>
<path d="M1877.3,454.8L1883.2,448.9L1889.1,454.8L1883.2,460.7Z"/>
<path d="M1879.4,454.6L1885.3,448.7L1891.2,454.6L1885.3,460.5Z"/>
<path d="M1881.4,454.9L1887.3,449.0L1893.2,454.9L1887.3,460.8Z"/>
<path d="M1883.4,455.0L1889.3,449.1L1895.2,455.0L1889.3,460.9Z"/>
<path d="M1885.3,455.3L1891.2,449.4L1897.1,455.3L1891.2,461.2Z"/>
<path d="M1887.2,454.5L1893.1,448.6L1899.0,454.5L1893.1,460.4Z"/>
<path d="M1889.0,455.1L1894.9,449.2L1900.8,455.1L1894.9,461.0Z"/>
<path d="M1890.8,454.8L1896.7,448.9L1902.6,454.8L1896.7,460.7Z"/>
<path d="M1892.6,454.7L1898.5,448.8L1904.4,454.7L1898.5,460.6Z"/>
<path d="M1894.3,455.2L1900.2,449.3L1906.1,455.2L1900.2,461.1Z"/>
<path d="M1896.0,454.8L1901.9,448.9L1907.8,454.8L1901.9,460.7Z"/>
<path d="M1897.7,454.8L1903.6,448.9L1909.5,454.8L1903.6,460.7Z"/>
<path d="M1899.4,455.0L1905.3,449.1L1911.2,455.0L1905.3,460.9Z"/>
<path d="M1901.0,455.1L1906.9,449.2L1912.8,455.1L1906.9,461.0Z"/>
<path d="M1902.6,454.4L1908.5,448.5L1914.4,454.4L1908.5,460.3Z"/>
<path d="M1904.2,454.6L1910.1,448.7L1916.0,454.6L1910.1,460.5Z"/>
<path d="M1905.8,454.4L1911.7,448.5L1917.6,454.4L1911.7,460.3Z"/>
<path d="M1907.4,454.4L1913.3,448.5L1919.2,454.4L1913.3,460.3Z"/>
<path d="M1908.9,454.5L1914.8,448.6L1920.7,454.5L1914.8,460.4Z"/>
<path d="M1910.5,454.2L1916.4,448.3L1922.3,454.2L1916.4,460.1Z"/>
<path d="M1912.0,454.2L1917.9,448.3L1923.8,454.2L1917.9,460.1Z"/>
<path d="M1911.9,454.2L1917.8,448.3L1923.7,454.2L1917.8,460.1Z"/>
</g>
<g fill="#fff" fill-opacity="0.9" stroke="#ff22ff" stroke-width="1.12">
<path d="M1519.5,68.5L1525.4,62.6L1531.3,68.5L1525.4,74.4Z"/>
<path d="M1542.1,67.0L1548.0,61.1L1553.9,67.0L1548.0,72.9Z"/>
<path d="M1555.3,66.2L1561.2,60.3L1567.1,66.2L1561.2,72.1Z"/>
<path d="M1566.8,64.9L1572.7,59.0L1578.6,64.9L1572.7,70.8Z"/>
<path d="M1576.7,63.7L1582.6,57.8L1588.5,63.7L1582.6,69.6Z"/>
<path d="M1586.0,63.7L1591.9,57.8L1597.8,63.7L1591.9,69.6Z"/>
<path d="M1595.0,63.3L1600.9,57.4L1606.8,63.3L1600.9,69.2Z"/>
<path d="M1603.8,62.9L1609.7,57.0L1615.6,62.9L1609.7,68.8Z"/>
<path d="M1612.5,62.5L1618.4,56.6L1624.3,62.5L1618.4,68.4Z"/>
<path d="M1621.1,62.1L1627.0,56.2L1632.9,62.1L1627.0,68.0Z"/>
<path d="M1629.6,61.7L1635.5,55.8L1641.4,61.7L1635.5,67.6Z"/>
<path d="M1638.1,61.4L1644.0,55.5L1649.9,61.4L1644.0,67.3Z"/>
<path d="M1646.4,61.0L1652.3,55.1L1658.2,61.0L1652.3,66.9Z"/>
<path d="M1654.7,61.2L1660.6,55.3L1666.5,61.2L1660.6,67.1Z"/>
<path d="M1662.8,61.4L1668.7,55.5L1674.6,61.4L1668.7,67.3Z"/>
<path d="M1670.7,61.6L1676.6,55.7L1682.5,61.6L1676.6,67.5Z"/>
<path d="M1678.4,61.7L1684.3,55.8L1690.2,61.7L1684.3,67.6Z"/>
<path d="M1686.0,61.9L1691.9,56.0L1697.8,61.9L1691.9,67.8Z"/>
<path d="M1693.4,62.1L1699.3,56.2L1705.2,62.1L1699.3,68.0Z"/>
<path d="M1700.7,62.2L1706.6,56.3L1712.5,62.2L1706.6,68.1Z"/>
<path d="M1707.8,62.4L1713.7,56.5L1719.6,62.4L1713.7,68.3Z"/>
<path d="M1714.7,62.6L1720.6,56.7L1726.5,62.6L1720.6,68.5Z"/>
<path d="M1721.5,62.7L1727.4,56.8L1733.3,62.7L1727.4,68.6Z"/>
<path d="M1728.2,62.9L1734.1,57.0L1740.0,62.9L1734.1,68.8Z"/>
<path d="M1734.7,63.0L1740.6,57.1L1746.5,63.0L1740.6,68.9Z"/>
<path d="M1741.1,63.2L1747.0,57.3L1752.9,63.2L1747.0,69.1Z"/>
<path d="M1747.4,63.3L1753.3,57.4L1759.2,63.3L1753.3,69.2Z"/>
<path d="M1753.5,63.5L1759.4,57.6L1765.3,63.5L1759.4,69.4Z"/>
<path d="M1759.5,63.9L1765.4,58.0L1771.3,63.9L1765.4,69.8Z"/>
<path d="M1765.4,64.2L1771.3,58.3L1777.2,64.2L1771.3,70.1Z"/>
<path d="M1771.2,64.6L1777.1,58.7L1783.0,64.6L1777.1,70.5Z"/>
<path d="M1776.8,65.0L1782.7,59.1L1788.6,65.0L1782.7,70.9Z"/>
<path d="M1782.4,65.4L1788.3,59.5L1794.2,65.4L1788.3,71.3Z"/>
<path d="M1787.8,65.7L1793.7,59.8L1799.6,65.7L1793.7,71.6Z"/>
<path d="M1793.1,66.1L1799.0,60.2L1804.9,66.1L1799.0,72.0Z"/>
<path d="M1798.4,66.2L1804.3,60.3L1810.2,66.2L1804.3,72.1Z"/>
<path d="M1803.4,66.3L1809.3,60.4L1815.2,66.3L1809.3,72.2Z"/>
<path d="M1808.3,67.3L1814.2,61.4L1820.1,67.3L1814.2,73.2Z"/>
<path d="M1813.0,66.8L1818.9,60.9L1824.8,66.8L1818.9,72.7Z"/>
<path d="M1817.6,67.7L1823.5,61.8L1829.4,67.7L1823.5,73.6Z"/>
<path d="M1822.0,67.8L1827.9,61.9L1833.8,67.8L1827.9,73.7Z"/>
<path d="M1826.2,67.6L1832.1,61.7L1838.0,67.6L1832.1,73.5Z"/>
<path d="M1830.3,68.5L1836.2,62.6L1842.1,68.5L1836.2,74.4Z"/>
<path d="M1834.3,68.1L1840.2,62.2L1846.1,68.1L1840.2,74.0Z"/>
<path d="M1838.1,68.9L1844.0,63.0L1849.9,68.9L1844.0,74.8Z"/>
<path d="M1841.8,68.7L1847.7,62.8L1853.6,68.7L1847.7,74.6Z"/>
<path d="M1845.3,68.9L1851.2,63.0L1857.1,68.9L1851.2,74.8Z"/>
<path d="M1848.6,69.6L1854.5,63.7L1860.4,69.6L1854.5,75.5Z"/>
<path d="M1851.7,70.2L1857.6,64.3L1863.5,70.2L1857.6,76.1Z"/>
<path d="M1854.7,69.2L1860.6,63.3L1866.5,69.2L1860.6,75.1Z"/>
<path d="M1857.6,69.3L1863.5,63.4L1869.4,69.3L1863.5,75.2Z"/>
<path d="M1860.5,69.9L1866.4,64.0L1872.3,69.9L1866.4,75.8Z"/>
<path d="M1863.3,70.4L1869.2,64.5L1875.1,70.4L1869.2,76.3Z"/>
<path d="M1866.0,69.8L1871.9,63.9L1877.8,69.8L1871.9,75.7Z"/>
<path d="M1868.7,69.6L1874.6,63.7L1880.5,69.6L1874.6,75.5Z"/>
<path d="M1871.3,70.4L1877.2,64.5L1883.1,70.4L1877.2,76.3Z"/>
<path d="M1873.9,69.1L1879.8,63.2L1885.7,69.1L1879.8,75.0Z"/>
<path d="M1876.5,70.3L1882.4,64.4L1888.3,70.3L1882.4,76.2Z"/>
<path d="M1879.0,69.5L1884.9,63.6L1890.8,69.5L1884.9,75.4Z"/>
<path d="M1881.5,69.3L1887.4,63.4L1893.3,69.3L1887.4,75.2Z"/>
<path d="M1883.9,69.2L1889.8,63.3L1895.7,69.2L1889.8,75.1Z"/>
<path d="M1886.3,69.5L1892.2,63.6L1898.1,69.5L1892.2,75.4Z"/>
<path d="M1888.6,70.2L1894.5,64.3L1900.4,70.2L1894.5,76.1Z"/>
<path d="M1890.9,69.3L1896.8,63.4L1902.7,69.3L1896.8,75.2Z"/>
<path d="M1893.2,69.9L1899.1,64.0L1905.0,69.9L1899.1,75.8Z"/>
<path d="M1895.4,70.2L1901.3,64.3L1907.2,70.2L1901.3,76.1Z"/>
<path d="M1897.6,70.2L1903.5,64.3L1909.4,70.2L1903.5,76.1Z"/>
<path d="M1899.7,70.8L1905.6,64.9L1911.5,70.8L1905.6,76.7Z"/>
<path d="M1901.8,70.5L1907.7,64.6L1913.6,70.5L1907.7,76.4Z"/>
<path d="M1904.0,70.8L1909.9,64.9L1915.8,70.8L1909.9,76.7Z"/>
<path d="M1906.0,71.4L1911.9,65.5L1917.8,71.4L1911.9,77.3Z"/>
<path d="M1908.1,72.4L1914.0,66.5L1919.9,72.4L1914.0,78.3Z"/>
<path d="M1910.1,72.3L1916.0,66.4L1921.9,72.3L1916.0,78.2Z"/>
<path d="M1912.2,72.2L1918.1,66.3L1924.0,72.2L1918.1,78.1Z"/>
<path d="M1914.1,72.7L1920.0,66.8L1925.9,72.7L1920.0,78.6Z"/>
<path d="M1916.1,72.7L1922.0,66.8L1927.9,72.7L1922.0,78.6Z"/>
<path d="M1918.1,72.6L1924.0,66.7L1929.9,72.6L1924.0,78.5Z"/>
<path d="M1920.0,73.4L1925.9,67.5L1931.8,73.4L1925.9,79.3Z"/>
<path d="M1921.9,73.3L1927.8,67.4L1933.7,73.3L1927.8,79.2Z"/>
<path d="M1923.8,72.8L1929.7,66.9L1935.6,72.8L1929.7,78.7Z"/>
<path d="M1925.6,73.4L1931.5,67.5L1937.4,73.4L1931.5,79.3Z"/>
<path d="M1927.4,73.4L1933.3,67.5L1939.2,73.4L1933.3,79.3Z"/>
<path d="M1929.3,74.0L1935.2,68.1L1941.1,74.0L1935.2,79.9Z"/>
<path d="M1931.0,73.6L1936.9,67.7L1942.8,73.6L1936.9,79.5Z"/>
<path d="M1932.8,72.9L1938.7,67.0L1944.6,72.9L1938.7,78.8Z"/>
<path d="M1934.6,73.7L1940.5,67.8L1946.4,73.7L1940.5,79.6Z"/>
<path d="M1936.3,72.3L1942.2,66.4L1948.1,72.3L1942.2,78.2Z"/>
<path d="M1936.6,72.8L1942.5,66.9L1948.4,72.8L1942.5,78.7Z"/>
</g>
<g fill="#fff" fill-opacity="0.9" stroke="#ff22ff" stroke-width="1.12">
<path d="M1519.5,76.4L1525.4,70.5L1531.3,76.4L1525.4,82.3Z"/>
<path d="M1542.1,75.0L1548.0,69.1L1553.9,75.0L1548.0,80.9Z"/>
<path d="M1555.3,74.3L1561.2,68.4L1567.1,74.3L1561.2,80.2Z"/>
<path d="M1566.8,73.2L1572.7,67.3L1578.6,73.2L1572.7,79.1Z"/>
<path d="M1576.7,72.7L1582.6,66.8L1588.5,72.7L1582.6,78.6Z"/>
<path d="M1586.0,71.9L1591.9,66.0L1597.8,71.9L1591.9,77.8Z"/>
<path d="M1595.0,71.6L1600.9,65.7L1606.8,71.6L1600.9,77.5Z"/>
<path d="M1603.8,71.2L1609.7,65.3L1615.6,71.2L1609.7,77.1Z"/>
<path d="M1612.5,70.9L1618.4,65.0L1624.3,70.9L1618.4,76.8Z"/>
<path d="M1621.1,70.6L1627.0,64.7L1632.9,70.6L1627.0,76.5Z"/>
<path d="M1629.6,70.2L1635.5,64.3L1641.4,70.2L1635.5,76.1Z"/>
<path d="M1638.1,69.9L1644.0,64.0L1649.9,69.9L1644.0,75.8Z"/>
<path d="M1646.4,69.6L1652.3,63.7L1658.2,69.6L1652.3,75.5Z"/>
<path d="M1654.7,69.9L1660.6,64.0L1666.5,69.9L1660.6,75.8Z"/>
<path d="M1662.8,70.2L1668.7,64.3L1674.6,70.2L1668.7,76.1Z"/>
<path d="M1670.7,70.5L1676.6,64.6L1682.5,70.5L1676.6,76.4Z"/>
<path d="M1678.4,70.7L1684.3,64.8L1690.2,70.7L1684.3,76.6Z"/>
<path d="M1686.0,71.0L1691.9,65.1L1697.8,71.0L1691.9,76.9Z"/>
<path d="M1693.4,71.3L1699.3,65.4L1705.2,71.3L1699.3,77.2Z"/>
<path d="M1700.7,71.5L1706.6,65.6L1712.5,71.5L1706.6,77.4Z"/>
<path d="M1707.8,71.8L1713.7,65.9L1719.6,71.8L1713.7,77.7Z"/>
<path d="M1714.7,72.0L1720.6,66.1L1726.5,72.0L1720.6,77.9Z"/>
<path d="M1721.5,72.2L1727.4,66.3L1733.3,72.2L1727.4,78.1Z"/>
<path d="M1728.2,72.5L1734.1,66.6L1740.0,72.5L1734.1,78.4Z"/>
<path d="M1734.7,72.7L1740.6,66.8L1746.5,72.7L1740.6,78.6Z"/>
<path d="M1741.1,72.9L1747.0,67.0L1752.9,72.9L1747.0,78.8Z"/>
<path d="M1747.4,73.3L1753.3,67.4L1759.2,73.3L1753.3,79.2Z"/>
<path d="M1753.5,73.9L1759.4,68.0L1765.3,73.9L1759.4,79.8Z"/>
<path d="M1759.5,74.2L1765.4,68.3L1771.3,74.2L1765.4,80.1Z"/>
<path d="M1765.4,74.6L1771.3,68.7L1777.2,74.6L1771.3,80.5Z"/>
<path d="M1771.2,75.0L1777.1,69.1L1783.0,75.0L1777.1,80.9Z"/>
<path d="M1776.8,75.3L1782.7,69.4L1788.6,75.3L1782.7,81.2Z"/>
<path d="M1782.4,75.7L1788.3,69.8L1794.2,75.7L1788.3,81.6Z"/>
<path d="M1787.8,76.0L1793.7,70.1L1799.6,76.0L1793.7,81.9Z"/>
<path d="M1793.1,76.4L1799.0,70.5L1804.9,76.4L1799.0,82.3Z"/>
<path d="M1798.4,76.6L1804.3,70.7L1810.2,76.6L1804.3,82.5Z"/>
<path d="M1803.4,77.4L1809.3,71.5L1815.2,77.4L1809.3,83.3Z"/>
<path d="M1808.3,76.8L1814.2,70.9L1820.1,76.8L1814.2,82.7Z"/>
<path d="M1813.0,77.6L1818.9,71.7L1824.8,77.6L1818.9,83.5Z"/>
<path d="M1817.6,77.2L1823.5,71.3L1829.4,77.2L1823.5,83.1Z"/>
<path d="M1822.0,78.4L1827.9,72.5L1833.8,78.4L1827.9,84.3Z"/>
<path d="M1826.2,78.8L1832.1,72.9L1838.0,78.8L1832.1,84.7Z"/>
<path d="M1830.3,78.8L1836.2,72.9L1842.1,78.8L1836.2,84.7Z"/>
<path d="M1834.3,79.5L1840.2,73.6L1846.1,79.5L1840.2,85.4Z"/>
<path d="M1838.1,78.9L1844.0,73.0L1849.9,78.9L1844.0,84.8Z"/>
<path d="M1841.8,79.7L1847.7,73.8L1853.6,79.7L1847.7,85.6Z"/>
<path d="M1845.3,79.8L1851.2,73.9L1857.1,79.8L1851.2,85.7Z"/>
<path d="M1848.6,80.0L1854.5,74.1L1860.4,80.0L1854.5,85.9Z"/>
<path d="M1851.7,80.2L1857.6,74.3L1863.5,80.2L1857.6,86.1Z"/>
<path d="M1854.7,81.1L1860.6,75.2L1866.5,81.1L1860.6,87.0Z"/>
<path d="M1857.6,81.6L1863.5,75.7L1869.4,81.6L1863.5,87.5Z"/>
<path d="M1860.5,81.3L1866.4,75.4L1872.3,81.3L1866.4,87.2Z"/>
<path d="M1863.3,81.9L1869.2,76.0L1875.1,81.9L1869.2,87.8Z"/>
<path d="M1866.0,81.4L1871.9,75.5L1877.8,81.4L1871.9,87.3Z"/>
<path d="M1868.7,82.6L1874.6,76.7L1880.5,82.6L1874.6,88.5Z"/>
<path d="M1871.3,82.8L1877.2,76.9L1883.1,82.8L1877.2,88.7Z"/>
<path d="M1873.9,83.6L1879.8,77.7L1885.7,83.6L1879.8,89.5Z"/>
<path d="M1876.5,83.6L1882.4,77.7L1888.3,83.6L1882.4,89.5Z"/>
<path d="M1879.0,83.1L1884.9,77.2L1890.8,83.1L1884.9,89.0Z"/>
<path d="M1881.5,83.4L1887.4,77.5L1893.3,83.4L1887.4,89.3Z"/>
<path d="M1883.9,84.1L1889.8,78.2L1895.7,84.1L1889.8,90.0Z"/>
<path d="M1886.3,83.4L1892.2,77.5L1898.1,83.4L1892.2,89.3Z"/>
<path d="M1888.6,84.2L1894.5,78.3L1900.4,84.2L1894.5,90.1Z"/>
<path d="M1890.9,84.0L1896.8,78.1L1902.7,84.0L1896.8,89.9Z"/>
<path d="M1893.2,84.2L1899.1,78.3L1905.0,84.2L1899.1,90.1Z"/>
<path d="M1895.4,84.3L1901.3,78.4L1907.2,84.3L1901.3,90.2Z"/>
<path d="M1897.6,85.4L1903.5,79.5L1909.4,85.4L1903.5,91.3Z"/>
<path d="M1899.7,84.7L1905.6,78.8L1911.5,84.7L1905.6,90.6Z"/>
<path d="M1901.8,85.0L1907.7,79.1L1913.6,85.0L1907.7,90.9Z"/>
<path d="M1904.0,85.3L1909.9,79.4L1915.8,85.3L1909.9,91.2Z"/>
<path d="M1906.0,86.1L1911.9,80.2L1917.8,86.1L1911.9,92.0Z"/>
<path d="M1908.1,85.1L1914.0,79.2L1919.9,85.1L1914.0,91.0Z"/>
<path d="M1910.1,85.8L1916.0,79.9L1921.9,85.8L1916.0,91.7Z"/>
<path d="M1912.2,86.0L1918.1,80.1L1924.0,86.0L1918.1,91.9Z"/>
<path d="M1914.1,86.5L1920.0,80.6L1925.9,86.5L1920.0,92.4Z"/>
<path d="M1916.1,86.4L1922.0,80.5L1927.9,86.4L1922.0,92.3Z"/>
<path d="M1918.1,86.5L1924.0,80.6L1929.9,86.5L1924.0,92.4Z"/>
<path d="M1920.0,85.8L1925.9,79.9L1931.8,85.8L1925.9,91.7Z"/>
<path d="M1921.9,86.0L1927.8,80.1L1933.7,86.0L1927.8,91.9Z"/>
<path d="M1923.8,86.0L1929.7,80.1L1935.6,86.0L1929.7,91.9Z"/>
<path d="M1925.6,87.1L1931.5,81.2L1937.4,87.1L1931.5,93.0Z"/>
<path d="M1927.4,87.7L1933.3,81.8L1939.2,87.7L1933.3,93.6Z"/>
<path d="M1929.3,87.0L1935.2,81.1L1941.1,87.0L1935.2,92.9Z"/>
<path d="M1931.0,87.5L1936.9,81.6L1942.8,87.5L1936.9,93.4Z"/>
<path d="M1932.8,88.1L1938.7,82.2L1944.6,88.1L1938.7,94.0Z"/>
<path d="M1934.6,88.5L1940.5,82.6L1946.4,88.5L1940.5,94.4Z"/>
<path d="M1936.3,89.3L1942.2,83.4L1948.1,89.3L1942.2,95.2Z"/>
<path d="M1936.6,89.4L1942.5,83.5L1948.4,89.4L1942.5,95.3Z"/>
</g>
<g fill="#fff" fill-opacity="0.9" stroke="#ff22ff" stroke-width="1.12">
<path d="M1519.5,86.0L1525.4,80.1L1531.3,86.0L1525.4,91.9Z"/>
<path d="M1542.1,85.2L1548.0,79.3L1553.9,85.2L1548.0,91.1Z"/>
<path d="M1555.3,84.4L1561.2,78.5L1567.1,84.4L1561.2,90.3Z"/>
<path d="M1566.8,83.3L1572.7,77.4L1578.6,83.3L1572.7,89.2Z"/>
<path d="M1576.7,82.0L1582.6,76.1L1588.5,82.0L1582.6,87.9Z"/>
<path d="M1586.0,80.5L1591.9,74.6L1597.8,80.5L1591.9,86.4Z"/>
<path d="M1595.0,80.3L1600.9,74.4L1606.8,80.3L1600.9,86.2Z"/>
<path d="M1603.8,80.0L1609.7,74.1L1615.6,80.0L1609.7,85.9Z"/>
<path d="M1612.5,79.8L1618.4,73.9L1624.3,79.8L1618.4,85.7Z"/>
<path d="M1621.1,79.6L1627.0,73.7L1632.9,79.6L1627.0,85.5Z"/>
<path d="M1629.6,79.3L1635.5,73.4L1641.4,79.3L1635.5,85.2Z"/>
<path d="M1638.1,79.1L1644.0,73.2L1649.9,79.1L1644.0,85.0Z"/>
<path d="M1646.4,78.9L1652.3,73.0L1658.2,78.9L1652.3,84.8Z"/>
<path d="M1654.7,79.3L1660.6,73.4L1666.5,79.3L1660.6,85.2Z"/>
<path d="M1662.8,79.6L1668.7,73.7L1674.6,79.6L1668.7,85.5Z"/>
<path d="M1670.7,79.9L1676.6,74.0L1682.5,79.9L1676.6,85.8Z"/>
<path d="M1678.4,80.3L1684.3,74.4L1690.2,80.3L1684.3,86.2Z"/>
<path d="M1686.0,80.6L1691.9,74.7L1697.8,80.6L1691.9,86.5Z"/>
<path d="M1693.4,80.9L1699.3,75.0L1705.2,80.9L1699.3,86.8Z"/>
<path d="M1700.7,81.2L1706.6,75.3L1712.5,81.2L1706.6,87.1Z"/>
<path d="M1707.8,81.5L1713.7,75.6L1719.6,81.5L1713.7,87.4Z"/>
<path d="M1714.7,81.8L1720.6,75.9L1726.5,81.8L1720.6,87.7Z"/>
<path d="M1721.5,82.1L1727.4,76.2L1733.3,82.1L1727.4,88.0Z"/>
<path d="M1728.2,82.4L1734.1,76.5L1740.0,82.4L1734.1,88.3Z"/>
<path d="M1734.7,82.6L1740.6,76.7L1746.5,82.6L1740.6,88.5Z"/>
<path d="M1741.1,82.9L1747.0,77.0L1752.9,82.9L1747.0,88.8Z"/>
<path d="M1747.4,83.3L1753.3,77.4L1759.2,83.3L1753.3,89.2Z"/>
<path d="M1753.5,83.7L1759.4,77.8L1765.3,83.7L1759.4,89.6Z"/>
<path d="M1759.5,84.1L1765.4,78.2L1771.3,84.1L1765.4,90.0Z"/>
<path d="M1765.4,84.5L1771.3,78.6L1777.2,84.5L1771.3,90.4Z"/>
<path d="M1771.2,84.8L1777.1,78.9L1783.0,84.8L1777.1,90.7Z"/>
<path d="M1776.8,85.2L1782.7,79.3L1788.6,85.2L1782.7,91.1Z"/>
<path d="M1782.4,85.6L1788.3,79.7L1794.2,85.6L1788.3,91.5Z"/>
<path d="M1787.8,86.0L1793.7,80.1L1799.6,86.0L1793.7,91.9Z"/>
<path d="M1793.1,86.3L1799.0,80.4L1804.9,86.3L1799.0,92.2Z"/>
<path d="M1798.4,86.8L1804.3,80.9L1810.2,86.8L1804.3,92.7Z"/>
<path d="M1803.4,86.7L1809.3,80.8L1815.2,86.7L1809.3,92.6Z"/>
<path d="M1808.3,86.6L1814.2,80.7L1820.1,86.6L1814.2,92.5Z"/>
<path d="M1813.0,87.5L1818.9,81.6L1824.8,87.5L1818.9,93.4Z"/>
<path d="M1817.6,87.8L1823.5,81.9L1829.4,87.8L1823.5,93.7Z"/>
<path d="M1822.0,88.3L1827.9,82.4L1833.8,88.3L1827.9,94.2Z"/>
<path d="M1826.2,89.2L1832.1,83.3L1838.0,89.2L1832.1,95.1Z"/>
<path d="M1830.3,89.1L1836.2,83.2L1842.1,89.1L1836.2,95.0Z"/>
<path d="M1834.3,89.1L1840.2,83.2L1846.1,89.1L1840.2,95.0Z"/>
<path d="M1838.1,89.5L1844.0,83.6L1849.9,89.5L1844.0,95.4Z"/>
<path d="M1841.8,89.8L1847.7,83.9L1853.6,89.8L1847.7,95.7Z"/>
<path d="M1845.3,89.2L1851.2,83.3L1857.1,89.2L1851.2,95.1Z"/>
<path d="M1848.6,90.6L1854.5,84.7L1860.4,90.6L1854.5,96.5Z"/>
<path d="M1851.7,90.7L1857.6,84.8L1863.5,90.7L1857.6,96.6Z"/>
<path d="M1854.7,91.1L1860.6,85.2L1866.5,91.1L1860.6,97.0Z"/>
<path d="M1857.6,91.3L1863.5,85.4L1869.4,91.3L1863.5,97.2Z"/>
<path d="M1860.5,91.0L1866.4,85.1L1872.3,91.0L1866.4,96.9Z"/>
<path d="M1863.3,91.3L1869.2,85.4L1875.1,91.3L1869.2,97.2Z"/>
<path d="M1866.0,91.1L1871.9,85.2L1877.8,91.1L1871.9,97.0Z"/>
<path d="M1868.7,92.1L1874.6,86.2L1880.5,92.1L1874.6,98.0Z"/>
<path d="M1871.3,91.6L1877.2,85.7L1883.1,91.6L1877.2,97.5Z"/>
<path d="M1873.9,91.8L1879.8,85.9L1885.7,91.8L1879.8,97.7Z"/>
<path d="M1876.5,92.3L1882.4,86.4L1888.3,92.3L1882.4,98.2Z"/>
<path d="M1879.0,92.4L1884.9,86.5L1890.8,92.4L1884.9,98.3Z"/>
<path d="M1881.5,92.9L1887.4,87.0L1893.3,92.9L1887.4,98.8Z"/>
<path d="M1883.9,92.7L1889.8,86.8L1895.7,92.7L1889.8,98.6Z"/>
<path d="M1886.3,92.9L1892.2,87.0L1898.1,92.9L1892.2,98.8Z"/>
<path d="M1888.6,93.3L1894.5,87.4L1900.4,93.3L1894.5,99.2Z"/>
<path d="M1890.9,93.5L1896.8,87.6L1902.7,93.5L1896.8,99.4Z"/>
<path d="M1893.2,94.0L1899.1,88.1L1905.0,94.0L1899.1,99.9Z"/>
<path d="M1895.4,93.8L1901.3,87.9L1907.2,93.8L1901.3,99.7Z"/>
<path d="M1897.6,95.2L1903.5,89.3L1909.4,95.2L1903.5,101.1Z"/>
<path d="M1899.7,95.1L1905.6,89.2L1911.5,95.1L1905.6,101.0Z"/>
<path d="M1901.8,94.7L1907.7,88.8L1913.6,94.7L1907.7,100.6Z"/>
<path d="M1904.0,95.1L1909.9,89.2L1915.8,95.1L1909.9,101.0Z"/>
<path d="M1906.0,95.5L1911.9,89.6L1917.8,95.5L1911.9,101.4Z"/>
<path d="M1908.1,95.8L1914.0,89.9L1919.9,95.8L1914.0,101.7Z"/>
<path d="M1910.1,95.7L1916.0,89.8L1921.9,95.7L1916.0,101.6Z"/>
<path d="M1912.2,97.0L1918.1,91.1L1924.0,97.0L1918.1,102.9Z"/>
<path d="M1914.1,97.4L1920.0,91.5L1925.9,97.4L1920.0,103.3Z"/>
<path d="M1916.1,96.9L1922.0,91.0L1927.9,96.9L1922.0,102.8Z"/>
<path d="M1918.1,97.2L1924.0,91.3L1929.9,97.2L1924.0,103.1Z"/>
<path d="M1920.0,96.8L1925.9,90.9L1931.8,96.8L1925.9,102.7Z"/>
<path d="M1921.9,97.1L1927.8,91.2L1933.7,97.1L1927.8,103.0Z"/>
<path d="M1923.8,97.7L1929.7,91.8L1935.6,97.7L1929.7,103.6Z"/>
<path d="M1925.6,97.8L1931.5,91.9L1937.4,97.8L1931.5,103.7Z"/>
<path d="M1927.4,98.8L1933.3,92.9L1939.2,98.8L1933.3,104.7Z"/>
<path d="M1929.3,97.9L1935.2,92.0L1941.1,97.9L1935.2,103.8Z"/>
<path d="M1931.0,97.8L1936.9,91.9L1942.8,97.8L1936.9,103.7Z"/>
<path d="M1932.8,99.2L1938.7,93.3L1944.6,99.2L1938.7,105.1Z"/>
<path d="M1934.6,98.7L1940.5,92.8L1946.4,98.7L1940.5,104.6Z"/>
<path d="M1936.3,98.3L1942.2,92.4L1948.1,98.3L1942.2,104.2Z"/>
<path d="M1936.6,98.8L1942.5,92.9L1948.4,98.8L1942.5,104.7Z"/>
</g>
<rect x="1453.9" y="41.8" width="543.0999999999999" height="440.8" fill="none" stroke="#000" stroke-width="2.1"/>
<line x1="1492.70" y1="482.60" x2="1492.70" y2="474.10" stroke="#000" stroke-width="2" />
<text transform="translate(1492.70,514.40) scale(1,1.05)" font-size="27.6" text-anchor="middle" font-family='"Liberation Sans", sans-serif' font-weight="normal" >0</text>
<line x1="1531.48" y1="482.60" x2="1531.48" y2="478.30" stroke="#000" stroke-width="2" />
<line x1="1570.27" y1="482.60" x2="1570.27" y2="474.10" stroke="#000" stroke-width="2" />
<text transform="translate(1570.27,514.40) scale(1,1.05)" font-size="27.6" text-anchor="middle" font-family='"Liberation Sans", sans-serif' font-weight="normal" >50</text>
<line x1="1609.05" y1="482.60" x2="1609.05" y2="478.30" stroke="#000" stroke-width="2" />
<line x1="1647.83" y1="482.60" x2="1647.83" y2="474.10" stroke="#000" stroke-width="2" />
<text transform="translate(1647.83,514.40) scale(1,1.05)" font-size="27.6" text-anchor="middle" font-family='"Liberation Sans", sans-serif' font-weight="normal" >100</text>
<line x1="1686.61" y1="482.60" x2="1686.61" y2="478.30" stroke="#000" stroke-width="2" />
<line x1="1725.39" y1="482.60" x2="1725.39" y2="474.10" stroke="#000" stroke-width="2" />
<text transform="translate(1725.39,514.40) scale(1,1.05)" font-size="27.6" text-anchor="middle" font-family='"Liberation Sans", sans-serif' font-weight="normal" >150</text>
<line x1="1764.18" y1="482.60" x2="1764.18" y2="478.30" stroke="#000" stroke-width="2" />
<line x1="1802.96" y1="482.60" x2="1802.96" y2="474.10" stroke="#000" stroke-width="2" />
<text transform="translate(1802.96,514.40) scale(1,1.05)" font-size="27.6" text-anchor="middle" font-family='"Liberation Sans", sans-serif' font-weight="normal" >200</text>
<line x1="1841.74" y1="482.60" x2="1841.74" y2="478.30" stroke="#000" stroke-width="2" />
<line x1="1880.53" y1="482.60" x2="1880.53" y2="474.10" stroke="#000" stroke-width="2" />
<text transform="translate(1880.53,514.40) scale(1,1.05)" font-size="27.6" text-anchor="middle" font-family='"Liberation Sans", sans-serif' font-weight="normal" >250</text>
<line x1="1919.31" y1="482.60" x2="1919.31" y2="478.30" stroke="#000" stroke-width="2" />
<line x1="1958.09" y1="482.60" x2="1958.09" y2="474.10" stroke="#000" stroke-width="2" />
<text transform="translate(1958.09,514.40) scale(1,1.05)" font-size="27.6" text-anchor="middle" font-family='"Liberation Sans", sans-serif' font-weight="normal" >300</text>
<line x1="1453.90" y1="456.40" x2="1462.70" y2="456.40" stroke="#000" stroke-width="2" />
<text transform="translate(1444.80,465.70) scale(1,1.05)" font-size="27.6" text-anchor="end" font-family='"Liberation Sans", sans-serif' font-weight="normal" >-2.4</text>
<line x1="1453.90" y1="404.54" x2="1458.70" y2="404.54" stroke="#000" stroke-width="2" />
<line x1="1453.90" y1="352.67" x2="1462.70" y2="352.67" stroke="#000" stroke-width="2" />
<text transform="translate(1444.80,361.97) scale(1,1.05)" font-size="27.6" text-anchor="end" font-family='"Liberation Sans", sans-serif' font-weight="normal" >-2.0</text>
<line x1="1453.90" y1="300.81" x2="1458.70" y2="300.81" stroke="#000" stroke-width="2" />
<line x1="1453.90" y1="248.95" x2="1462.70" y2="248.95" stroke="#000" stroke-width="2" />
<text transform="translate(1444.80,258.25) scale(1,1.05)" font-size="27.6" text-anchor="end" font-family='"Liberation Sans", sans-serif' font-weight="normal" >-1.6</text>
<line x1="1453.90" y1="197.09" x2="1458.70" y2="197.09" stroke="#000" stroke-width="2" />
<line x1="1453.90" y1="145.22" x2="1462.70" y2="145.22" stroke="#000" stroke-width="2" />
<text transform="translate(1444.80,154.52) scale(1,1.05)" font-size="27.6" text-anchor="end" font-family='"Liberation Sans", sans-serif' font-weight="normal" >-1.2</text>
<line x1="1453.90" y1="93.36" x2="1458.70" y2="93.36" stroke="#000" stroke-width="2" />
<text transform="translate(1444.80,50.80) scale(1,1.05)" font-size="27.6" text-anchor="end" font-family='"Liberation Sans", sans-serif' font-weight="normal" >-0.8</text>
<text transform="translate(1379.00,44.00) scale(1,1.02)" font-size="36.7" text-anchor="middle" font-family='"Liberation Sans", sans-serif' font-weight="bold" >c</text>
<text transform="translate(1724.40,569.50) scale(1,1.05)" font-size="36.7" text-anchor="middle" font-family='"Liberation Sans", sans-serif' font-weight="normal" >Temperature (K)</text>
<text transform="translate(1376.4,321) rotate(-90) scale(1,1.05)" font-family='"Liberation Sans", sans-serif' text-anchor="start"><tspan x="0.43" y="0.00" font-size="36.2">Log</tspan><tspan x="65.00" y="0" font-size="35"> </tspan><tspan x="69.70" y="2.29" font-size="28.5" font-family='"DejaVu Sans", sans-serif' font-weight="200" textLength="13.57" lengthAdjust="spacingAndGlyphs">(</tspan><tspan x="78.71" y="0.00" font-size="35.5">G/G</tspan><tspan x="144.77" y="8.86" font-size="23.8">0</tspan><tspan x="154.40" y="2.29" font-size="28.5" font-family='"DejaVu Sans", sans-serif' font-weight="200" textLength="13.57" lengthAdjust="spacingAndGlyphs">)</tspan></text>
</svg>
</body>
</html>
